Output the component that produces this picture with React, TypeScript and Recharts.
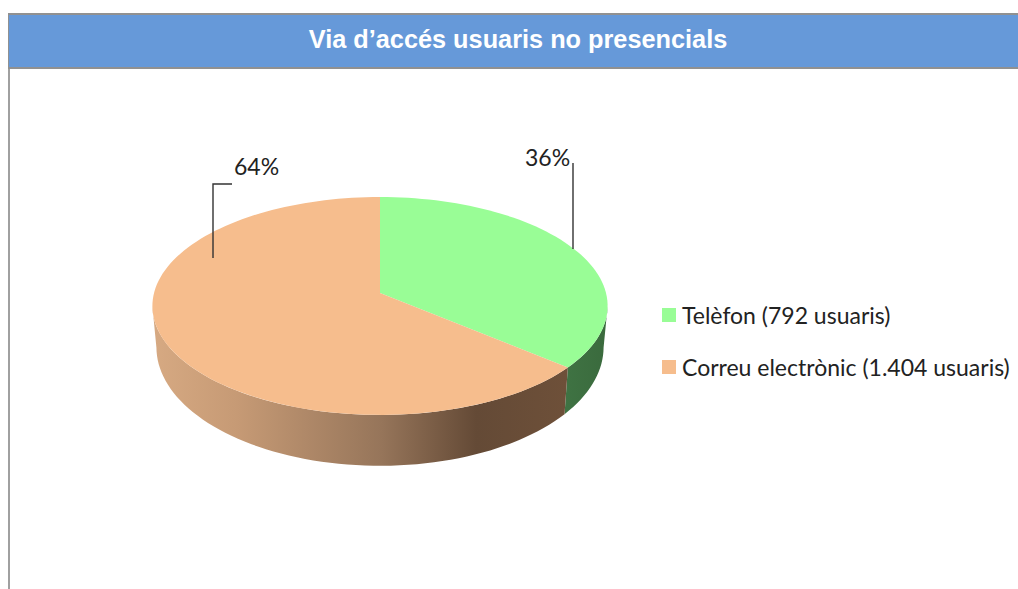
import { Legend, Pie, PieChart } from 'recharts';

const categories = ['Telèfon', 'Correu electrònic'];
const users = [792, 1404];
const userLabels = ['792', '1.404'];
const topColors = ['#99fd96', '#f6bd8d'];
const wallFills = ['url(#wallGreen)', 'url(#wallOrange)'];

const chartData = categories.map((name, i) => ({
  name,
  value: users[i],
  fill: topColors[i],
  wall: wallFills[i],
  legendText: `${name} (${userLabels[i]} usuaris)`,
}));

// perspective of the disc: top face and bottom edge
const CX = 380;
const PERSP = -0.119;
const TOP = { y0: 293, a: 107.4, c: 226 };
const BOTTOM = { y0: 333, a: 117, c: 222 };
const RIGHT_EDGE = 97;
const LEFT_EDGE = 263;

const project = (deg: number, f: { y0: number; a: number; c: number }) => {
  const rad = (deg * Math.PI) / 180;
  const u = Math.sin(rad);
  const v = -Math.cos(rad);
  const d = 1 + PERSP * v;
  return [CX + (f.c * u) / d, f.y0 + (f.a * v) / d];
};

const arcPoints = (from: number, to: number, f: typeof TOP) => {
  const pts: number[][] = [];
  const steps = Math.max(2, Math.ceil(Math.abs(to - from) / 2));
  for (let i = 0; i <= steps; i++) {
    pts.push(project(from + ((to - from) * i) / steps, f));
  }
  return pts;
};

const toPath = (pts: number[][]) =>
  pts.map((p, i) => `${i ? 'L' : 'M'}${p[0].toFixed(2)},${p[1].toFixed(2)}`).join(' ');

const renderSlice = (props: any) => {
  const from = 90 - props.startAngle;
  const to = 90 - props.endAngle;
  const wallFrom = Math.max(from, RIGHT_EDGE);
  const wallTo = Math.min(to, LEFT_EDGE);
  const wall =
    wallTo > wallFrom
      ? toPath([...arcPoints(wallFrom, wallTo, TOP), ...arcPoints(wallTo, wallFrom, BOTTOM)]) + ' Z'
      : '';
  const top = `M${CX},${TOP.y0} ` + toPath(arcPoints(from, to, TOP)).replace('M', 'L') + ' Z';
  return (
    <g>
      {wall && <path d={wall} fill={props.payload?.wall ?? props.wall} />}
      <path d={top} fill={props.fill} />
    </g>
  );
};

const renderLabel = (props: any) => {
  const text = `${Math.round(props.percent * 100)}%`;
  const common = { fontFamily: 'Lato, sans-serif', fontSize: 23, fill: '#222222' };
  const line = { fill: 'none', stroke: '#333333', strokeWidth: 1.4 };
  if (props.index === 0) {
    return (
      <g>
        <path d="M573,163 L573,249" {...line} />
        <text x={525} y={166} {...common}>{text}</text>
      </g>
    );
  }
  return (
    <g>
      <path d="M213,258 L213,184 L232,184" {...line} />
      <text x={234} y={175} {...common}>{text}</text>
    </g>
  );
};

const renderLegend = () => (
  <div>
    {chartData.map((d) => (
      <div
        key={d.name}
        style={{
          display: 'flex',
          alignItems: 'center',
          height: 26,
          marginBottom: 26,
          fontFamily: 'Lato, sans-serif',
          fontSize: 23,
          color: '#222222',
          whiteSpace: 'nowrap',
        }}
      >
        <span style={{ width: 14, height: 14, background: d.fill, marginRight: 6 }} />
        {d.legendText}
      </div>
    ))}
  </div>
);

export default function App() {
  return (
    <div style={{ position: 'absolute', left: 0, top: 0, width: 1018, height: 589, overflow: 'hidden', background: '#fff' }}>
      <div
        style={{
          position: 'absolute',
          left: 8,
          top: 13,
          width: 1002,
          height: 52,
          paddingLeft: 8,
          borderTop: '2px solid #919191',
          borderBottom: '2px solid #919191',
          borderLeft: '1px solid #919191',
          background: '#6699d9',
          color: '#ffffff',
          fontFamily: '"Liberation Sans", sans-serif',
          fontWeight: 700,
          fontSize: 25.3,
          lineHeight: '49px',
          textAlign: 'center',
        }}
      >
        Via d’accés usuaris no presencials
      </div>
      <div style={{ position: 'absolute', left: 8, top: 69, width: 2, height: 520, background: '#a0a0a0' }} />
      <div style={{ position: 'absolute', left: 0, top: 0 }}>
        <PieChart width={1018} height={589}>
          <defs>
            <linearGradient id="wallOrange" gradientUnits="userSpaceOnUse" x1={155} x2={567} y1={0} y2={0}>
              <stop offset="0" stopColor="#d6a982" />
              <stop offset="0.2" stopColor="#c69a75" />
              <stop offset="0.55" stopColor="#96755a" />
              <stop offset="0.78" stopColor="#644a36" />
              <stop offset="1" stopColor="#6e5039" />
            </linearGradient>
            <linearGradient id="wallGreen" gradientUnits="userSpaceOnUse" x1={565} x2={607} y1={0} y2={0}>
              <stop offset="0" stopColor="#3f7343" />
              <stop offset="1" stopColor="#3a6a3d" />
            </linearGradient>
          </defs>
          <Pie
            data={chartData}
            dataKey="value"
            nameKey="name"
            cx={CX}
            cy={306}
            outerRadius={110}
            startAngle={90}
            endAngle={-270}
            stroke="none"
            isAnimationActive={false}
            shape={renderSlice}
            label={renderLabel}
            labelLine={false}
          />
          <Legend
            content={renderLegend}
            layout="vertical"
            align="left"
            verticalAlign="top"
            wrapperStyle={{ left: 662, top: 302, width: 350 }}
          />
        </PieChart>
      </div>
    </div>
  );
}
